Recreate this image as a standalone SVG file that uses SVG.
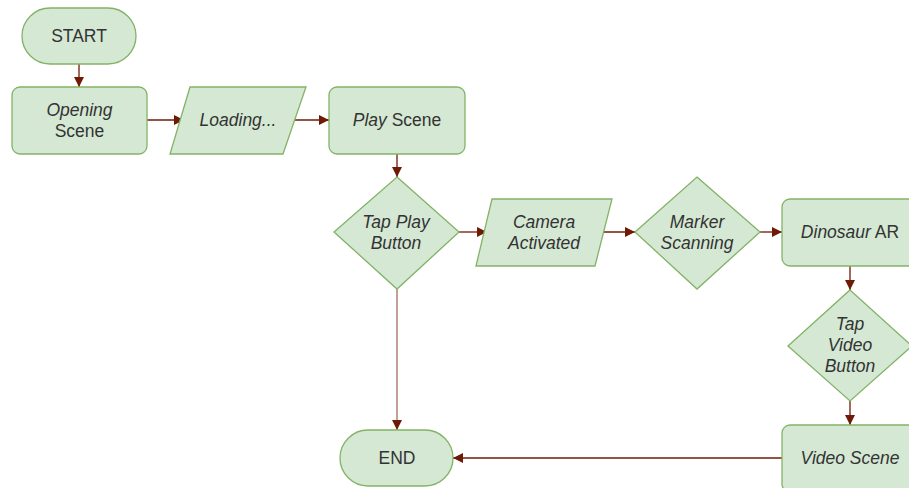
<svg xmlns="http://www.w3.org/2000/svg" width="909" height="488" viewBox="0 0 909 488">
<style>
.n{fill:#d5e8d4;stroke:#82b366;stroke-width:1.3}
.t{font-family:"Liberation Sans",Arial,sans-serif;font-size:17.5px;fill:#333;text-anchor:middle}
.i{font-style:italic}
.c{fill:none;stroke:#6f1a07;stroke-width:1.3}
.l{stroke:#a36f61}
</style>
<defs>
<marker id="a" viewBox="0 0 10 10" refX="10" refY="5" markerWidth="10" markerHeight="10" markerUnits="userSpaceOnUse" orient="auto">
<path d="M0,0 L10,5 L0,10 z" fill="#6f1a07"/>
</marker>
</defs>
<rect width="909" height="488" fill="#fff"/>
<g id="connectors">
<line class="c" x1="79" y1="64" x2="79" y2="87" marker-end="url(#a)"/>
<line class="c" x1="147" y1="120" x2="184" y2="120" marker-end="url(#a)"/>
<line class="c" x1="294" y1="120" x2="329" y2="120" marker-end="url(#a)"/>
<line class="c" x1="397" y1="154" x2="397" y2="177" marker-end="url(#a)"/>
<line class="c" x1="459" y1="232" x2="487" y2="232" marker-end="url(#a)"/>
<line class="c" x1="597" y1="232" x2="635" y2="232" marker-end="url(#a)"/>
<line class="c" x1="760" y1="232" x2="782" y2="232" marker-end="url(#a)"/>
<line class="c" x1="850" y1="266" x2="850" y2="290" marker-end="url(#a)"/>
<line class="c" x1="850" y1="401" x2="850" y2="425" marker-end="url(#a)"/>
<line class="c l" x1="397" y1="289" x2="397" y2="430" marker-end="url(#a)"/>
<line class="c" x1="782" y1="458" x2="453" y2="458" marker-end="url(#a)"/>
</g>
<g id="start">
<rect class="n" x="22" y="8" width="114" height="56" rx="28" ry="28"/>
<text class="t" x="79" y="42">START</text>
</g>
<g id="opening">
<rect class="n" x="12" y="87" width="135" height="67" rx="8"/>
<text class="t" x="79.5" y="116"><tspan class="i">Opening</tspan><tspan x="79.5" dy="21">Scene</tspan></text>
</g>
<g id="loading">
<polygon class="n" points="190,87 306,87 283,154 170,154"/>
<text class="t i" x="238" y="126">Loading...</text>
</g>
<g id="play">
<rect class="n" x="329" y="87" width="136" height="67" rx="8"/>
<text class="t" x="397" y="126"><tspan class="i">Play</tspan> Scene</text>
</g>
<g id="tapplay">
<polygon class="n" points="397,177 459,232 397,289 334,232"/>
<text class="t i" x="396" y="228">Tap Play<tspan x="396" dy="21">Button</tspan></text>
</g>
<g id="camera">
<polygon class="n" points="492,199 612,199 595,266 476,266"/>
<text class="t i" x="544" y="228">Camera<tspan x="544" dy="21">Activated</tspan></text>
</g>
<g id="marker">
<polygon class="n" points="697,177 760,232 697,289 635,232"/>
<text class="t i" x="697" y="228">Marker<tspan x="697" dy="21">Scanning</tspan></text>
</g>
<g id="dino">
<rect class="n" x="782" y="199" width="136" height="67" rx="8"/>
<text class="t" x="850" y="238"><tspan class="i">Dinosaur</tspan> AR</text>
</g>
<g id="tapvideo">
<polygon class="n" points="850,290 912,346 850,401 788,346"/>
<text class="t i" x="850" y="330">Tap<tspan x="850" dy="21">Video</tspan><tspan x="850" dy="21">Button</tspan></text>
</g>
<g id="video">
<rect class="n" x="782" y="425" width="136" height="67" rx="8"/>
<text class="t i" x="850" y="464">Video Scene</text>
</g>
<g id="end">
<rect class="n" x="340" y="430" width="113" height="56" rx="28" ry="28"/>
<text class="t" x="397" y="464">END</text>
</g>
</svg>
